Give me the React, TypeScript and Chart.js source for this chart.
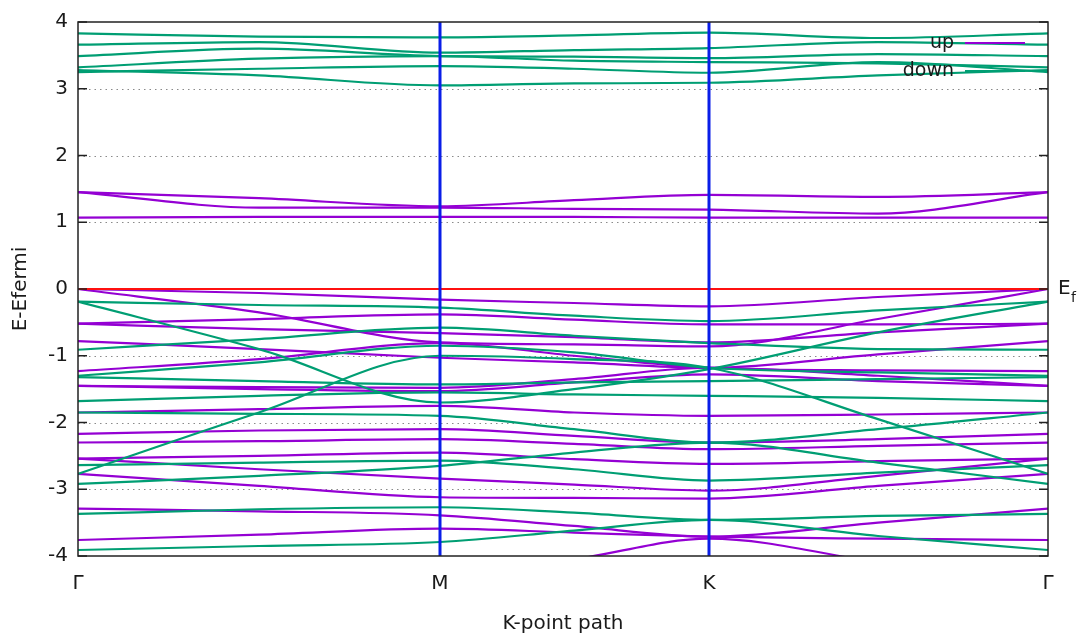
import React, { useEffect, useRef } from "react";
import { Chart, registerables } from "chart.js";

Chart.register(...registerables);

// k-path sample positions (path length units) and symmetry point ticks
const KPOS = [0, 181, 362, 496, 631, 800, 970];
const KTICK_POS = [0, 362, 631, 970];
const KTICK_LABELS = ["Γ", "M", "K", "Γ"];
const Y_TICKS = [4, 3, 2, 1, 0, -1, -2, -3, -4];

// spin-up bands (values at KPOS)
const upBands = [
  [1.45, 1.36, 1.24, 1.33, 1.41, 1.38, 1.45],
  [1.45, 1.22, 1.22, 1.2, 1.19, 1.13, 1.45],
  [1.07, 1.08, 1.08, 1.08, 1.07, 1.07, 1.07],
  [0, -0.06, -0.16, -0.21, -0.26, -0.12, 0],
  [0, -0.35, -0.8, -0.83, -0.86, -0.45, 0],
  [-0.52, -0.45, -0.38, -0.46, -0.53, -0.53, -0.52],
  [-0.52, -0.6, -0.66, -0.72, -0.8, -0.65, -0.52],
  [-0.78, -0.9, -1.03, -1.1, -1.18, -0.98, -0.78],
  [-1.23, -1.05, -0.81, -1.0, -1.18, -1.22, -1.23],
  [-1.45, -1.47, -1.48, -1.35, -1.18, -1.3, -1.45],
  [-1.45, -1.5, -1.53, -1.4, -1.28, -1.38, -1.45],
  [-1.85, -1.8, -1.75, -1.85, -1.9, -1.88, -1.85],
  [-2.17, -2.12, -2.1, -2.2, -2.3, -2.25, -2.17],
  [-2.3, -2.28, -2.25, -2.32, -2.4, -2.35, -2.3],
  [-2.54, -2.5, -2.45, -2.55, -2.62, -2.58, -2.54],
  [-2.54, -2.7, -2.84, -2.93, -3.02, -2.8, -2.54],
  [-2.77, -2.95, -3.12, -3.13, -3.14, -2.95, -2.77],
  [-3.29, -3.33, -3.39, -3.55, -3.71, -3.5, -3.29],
  [-3.76, -3.68, -3.59, -3.65, -3.71, -3.74, -3.76],
  [-4.6, -4.4, -4.3, -4.05, -3.74, -4.1, -4.5],
];

// spin-down bands (values at KPOS)
const downBands = [
  [3.83, 3.78, 3.77, 3.8, 3.84, 3.76, 3.83],
  [3.66, 3.7, 3.54, 3.58, 3.61, 3.7, 3.66],
  [3.49, 3.6, 3.49, 3.48, 3.46, 3.52, 3.49],
  [3.32, 3.45, 3.49, 3.42, 3.4, 3.38, 3.32],
  [3.25, 3.3, 3.34, 3.3, 3.24, 3.4, 3.25],
  [3.28, 3.2, 3.05, 3.08, 3.09, 3.2, 3.28],
  [-0.19, -0.24, -0.28, -0.4, -0.48, -0.32, -0.19],
  [-0.19, -0.9, -1.7, -1.5, -1.2, -0.65, -0.19],
  [-0.91, -0.75, -0.58, -0.7, -0.81, -0.9, -0.91],
  [-1.3, -1.1, -0.85, -0.95, -1.18, -1.25, -1.3],
  [-1.32, -1.38, -1.43, -1.4, -1.38, -1.35, -1.32],
  [-1.68, -1.6, -1.55, -1.58, -1.6, -1.63, -1.68],
  [-2.77, -1.85, -1.0, -1.05, -1.18, -1.95, -2.77],
  [-1.85, -1.87, -1.9, -2.1, -2.3, -2.1, -1.85],
  [-2.64, -2.6, -2.57, -2.7, -2.87, -2.75, -2.64],
  [-2.92, -2.8, -2.65, -2.45, -2.3, -2.6, -2.92],
  [-3.37, -3.3, -3.27, -3.35, -3.46, -3.4, -3.37],
  [-3.91, -3.85, -3.79, -3.62, -3.46, -3.7, -3.91],
];

const UP_COLOR = "#9400d3";
const DOWN_COLOR = "#009e73";
const FONT = "DejaVu Sans";
const TEXT_COLOR = "#1a1a1a";

const overlay = {
  id: "overlay",
  beforeDatasetsDraw(chart: any) {
    const { ctx, chartArea } = chart;
    const { left, right } = chartArea;
    const y = chart.scales.y;
    ctx.save();
    ctx.strokeStyle = "#8a8a8a";
    ctx.lineWidth = 1;
    ctx.setLineDash([1.5, 4]);
    for (const v of Y_TICKS) {
      if (v === 4 || v === -4) continue;
      const py = Math.round(y.getPixelForValue(v)) + 0.5;
      ctx.beginPath();
      ctx.moveTo(left, py);
      ctx.lineTo(right, py);
      ctx.stroke();
    }
    ctx.restore();
  },
  afterDraw(chart: any) {
    const { ctx, chartArea } = chart;
    const { left, right, top, bottom } = chartArea;
    const y = chart.scales.y;
    ctx.save();
    ctx.setLineDash([]);
    // frame
    ctx.strokeStyle = "#222";
    ctx.lineWidth = 1.5;
    ctx.strokeRect(left, top, right - left, bottom - top);
    // inward tick marks (mirrored)
    for (const v of Y_TICKS) {
      const py = y.getPixelForValue(v);
      ctx.beginPath();
      ctx.moveTo(left, py);
      ctx.lineTo(left + 9, py);
      ctx.moveTo(right - 9, py);
      ctx.lineTo(right, py);
      ctx.stroke();
    }
    // legend
    ctx.fillStyle = TEXT_COLOR;
    ctx.font = `19px "${FONT}"`;
    ctx.textAlign = "right";
    ctx.textBaseline = "middle";
    ctx.fillText("up", 954, 43);
    ctx.fillText("down", 954, 71);
    ctx.lineWidth = 2.2;
    ctx.strokeStyle = UP_COLOR;
    ctx.beginPath();
    ctx.moveTo(965, 43);
    ctx.lineTo(1025, 43);
    ctx.stroke();
    ctx.strokeStyle = DOWN_COLOR;
    ctx.beginPath();
    ctx.moveTo(965, 71);
    ctx.lineTo(1025, 71);
    ctx.stroke();
    // E_f label
    const p0 = y.getPixelForValue(0);
    ctx.textAlign = "left";
    ctx.font = `20px "${FONT}"`;
    ctx.fillText("E", 1058, p0);
    ctx.font = `14px "${FONT}"`;
    ctx.fillText("f", 1071, p0 + 9);
    // axis titles
    ctx.font = `20px "${FONT}"`;
    ctx.textAlign = "center";
    ctx.fillText("K-point path", (left + right) / 2, 624);
    ctx.translate(21, (top + bottom) / 2);
    ctx.rotate(-Math.PI / 2);
    ctx.fillText("E-Efermi", 0, 0);
    ctx.restore();
  },
};

export default function App() {
  const ref = useRef<HTMLCanvasElement | null>(null);
  useEffect(() => {
    if (!ref.current) return;
    const toPts = (b: number[]) => KPOS.map((x, i) => ({ x, y: b[i] }));
    const bandDs = (b: number[], color: string) => ({
      data: toPts(b),
      borderColor: color,
      borderWidth: 2.2,
      showLine: true,
      pointRadius: 0,
      cubicInterpolationMode: "monotone" as const,
      order: 5,
    });
    const datasets: any[] = [
      {
        data: [{ x: KTICK_POS[1], y: -4 }, { x: KTICK_POS[1], y: 4 }],
        borderColor: "#0a1ee8",
        borderWidth: 3,
        showLine: true,
        pointRadius: 0,
        order: 0,
      },
      {
        data: [{ x: KTICK_POS[2], y: -4 }, { x: KTICK_POS[2], y: 4 }],
        borderColor: "#0a1ee8",
        borderWidth: 3,
        showLine: true,
        pointRadius: 0,
        order: 0,
      },
      {
        data: [{ x: KTICK_POS[0], y: 0 }, { x: KTICK_POS[3], y: 0 }],
        borderColor: "#ff1010",
        borderWidth: 2.2,
        showLine: true,
        pointRadius: 0,
        order: 1,
      },
      ...downBands.map((b) => bandDs(b, DOWN_COLOR)),
      ...upBands.map((b) => bandDs(b, UP_COLOR)),
    ];
    const chart = new Chart(ref.current, {
      type: "scatter",
      data: { datasets },
      options: {
        animation: false,
        responsive: false,
        events: [],
        layout: { padding: { top: 19, right: 36, left: 0, bottom: 0 } },
        plugins: { legend: { display: false }, tooltip: { enabled: false } },
        scales: {
          x: {
            type: "linear",
            min: 0,
            max: 970,
            afterBuildTicks: (s: any) => {
              s.ticks = KTICK_POS.map((v) => ({ value: v }));
            },
            afterFit: (s: any) => {
              s.height = 82;
            },
            ticks: {
              autoSkip: false,
              maxRotation: 0,
              padding: 16,
              color: TEXT_COLOR,
              font: { family: FONT, size: 20 },
              callback: (_v: any, i: number) => KTICK_LABELS[i],
            },
            grid: { display: false, drawTicks: false },
            border: { display: false },
          },
          y: {
            type: "linear",
            min: -4,
            max: 4,
            afterBuildTicks: (s: any) => {
              s.ticks = Y_TICKS.map((v) => ({ value: v }));
            },
            afterFit: (s: any) => {
              s.width = 78;
            },
            ticks: {
              padding: 10,
              color: TEXT_COLOR,
              font: { family: FONT, size: 20 },
              callback: (v: any) => String(v),
            },
            grid: { display: false, drawTicks: false },
            border: { display: false },
          },
        },
      },
      plugins: [overlay],
    });
    return () => chart.destroy();
  }, []);
  return (
    <div style={{ position: "fixed", left: 0, top: 0, width: 1084, height: 638, background: "#fff" }}>
      <canvas ref={ref} width={1084} height={638} />
    </div>
  );
}
